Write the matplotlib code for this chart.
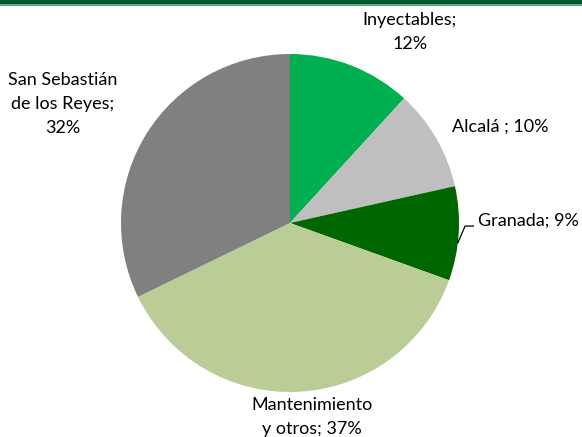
import matplotlib
matplotlib.use("Agg")
import matplotlib.pyplot as plt
from matplotlib.patches import Rectangle
import numpy as np

categories = ["Inyectables", "Alcalá ", "Granada", "Mantenimiento\ny otros", "San Sebastián\nde los Reyes"]
values = [11.8, 9.7, 9.0, 37.3, 32.2]
colors = ["#00B050", "#BFBFBF", "#006600", "#BBCD97", "#808080"]
label_texts = ["Inyectables;\n12%", "Alcalá ; 10%", "Granada; 9%", "Mantenimiento\ny otros; 37%", "San Sebastián\nde los Reyes;\n32%"]

plt.rcParams['font.family'] = ['Lato', 'DejaVu Sans']

W, H = 582, 437
fig = plt.figure(figsize=(W / 100, H / 100), dpi=100)
ax = fig.add_axes([0, 0, 1, 1])
cx, cy, R = 290, 437 - 223, 169
ax.axis('off')

wedges, _ = ax.pie(values, colors=colors, startangle=90, counterclock=False,
                   radius=1.0, wedgeprops=dict(linewidth=0))
ax.set_aspect('auto')
ax.set_xlim(-cx / R, (W - cx) / R)
ax.set_ylim(-cy / R, (H - cy) / R)

fs = 13
# label positions (relative to pie radius)
pos = [(0.71, 1.13, 'center', 'center'),
       (1.245, 0.57, 'center', 'center'),
       (1.11, 0.012, 'left', 'center'),
       (0.13, -1.148, 'center', 'center'),
       (-1.345, 0.704, 'center', 'center')]
for t, (x, y, ha, va) in zip(label_texts, pos):
    ax.text(x, y, t, ha=ha, va=va, fontsize=fs, color='black', linespacing=1.6)

# leader line for Granada
ye = -0.118
xe = np.sqrt(1 - ye ** 2)
ax.plot([xe, 1.036, 1.085], [ye, -0.018, -0.018], color='black', lw=0.9)

# top green band
fig.patches.append(Rectangle((0, 1 - 4 / H), 1, 4 / H, transform=fig.transFigure,
                             facecolor='#00592B', edgecolor='none'))
fig.patches.append(Rectangle((0, 1 - 5.5 / H), 1, 1.5 / H, transform=fig.transFigure,
                             facecolor='#6FA583', edgecolor='none'))

fig.savefig("out.png", dpi=100, facecolor='white')
